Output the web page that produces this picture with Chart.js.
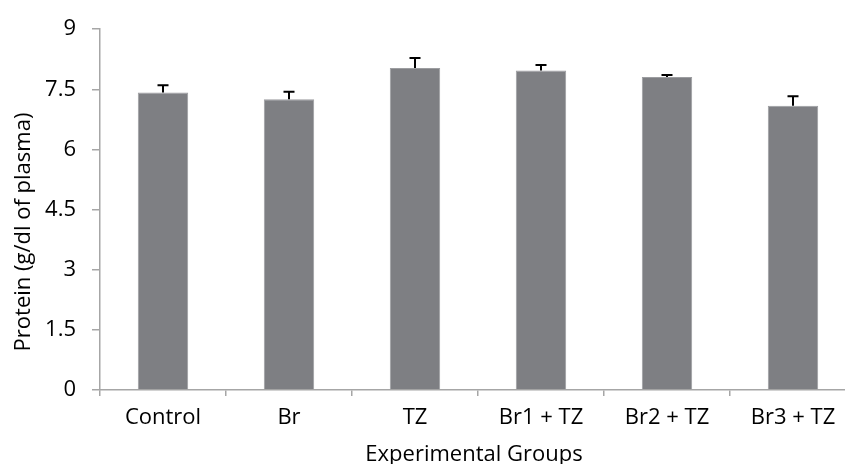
<!DOCTYPE html>
<html>
<head>
<meta charset="utf-8">
<script src="https://cdn.jsdelivr.net/npm/chart.js@4"></script>
<style>
  html, body { margin: 0; padding: 0; background: #ffffff; overflow: hidden; }
  #wrap { width: 870px; height: 464px; }
</style>
</head>
<body>
<div id="wrap"><canvas id="chart" width="870" height="464"></canvas></div>
<script>
// Plasma protein by experimental group (mean and upper SE)
const groups = ['Control', 'Br', 'TZ', 'Br1 + TZ', 'Br2 + TZ', 'Br3 + TZ'];
const protein = [7.42, 7.25, 8.03, 7.97, 7.81, 7.09];
const proteinErr = [0.18, 0.19, 0.25, 0.14, 0.05, 0.24];
const yTicks = [0, 1.5, 3, 4.5, 6, 7.5, 9];

const FONT = "'Open Sans', sans-serif";
const AXIS_GREY = '#a6a6a6';

// Upper-only error bars with a short cap
const errorBars = {
  id: 'errorBars',
  afterDatasetsDraw(chart) {
    const meta = chart.getDatasetMeta(0);
    const y = chart.scales.y;
    const ctx = chart.ctx;
    ctx.save();
    ctx.strokeStyle = '#000000';
    ctx.lineWidth = 2;
    meta.data.forEach((bar, i) => {
      const top = y.getPixelForValue(protein[i] + proteinErr[i]);
      const base = y.getPixelForValue(protein[i]);
      ctx.beginPath();
      ctx.moveTo(bar.x, base);
      ctx.lineTo(bar.x, top);
      ctx.moveTo(bar.x - 5.5, top);
      ctx.lineTo(bar.x + 5.5, top);
      ctx.stroke();
    });
    ctx.restore();
  }
};

// Axis titles
const axisTitles = {
  id: 'axisTitles',
  afterDraw(chart) {
    const ctx = chart.ctx;
    ctx.save();
    ctx.fillStyle = '#000000';
    ctx.font = '22px ' + FONT;
    ctx.textAlign = 'center';
    ctx.textBaseline = 'alphabetic';
    ctx.fillText('Experimental Groups', 474, 461);
    ctx.translate(30, 232);
    ctx.rotate(-Math.PI / 2);
    ctx.fillText('Protein (g/dl of plasma)', 0, 0);
    ctx.restore();
  }
};

new Chart(document.getElementById('chart'), {
  type: 'bar',
  data: {
    labels: groups,
    datasets: [{
      data: protein,
      backgroundColor: '#7e7f83',
      borderColor: '#9c9da0',
      borderWidth: 1,
      barPercentage: 0.4,
      categoryPercentage: 1.0
    }]
  },
  options: {
    responsive: false,
    animation: false,
    layout: { padding: { top: 26, right: 14, left: 0, bottom: 0 } },
    plugins: { legend: { display: false }, tooltip: { enabled: false } },
    scales: {
      x: {
        offset: true,
        grid: {
          display: true, offset: true, drawOnChartArea: false,
          drawTicks: true, tickLength: 6, color: AXIS_GREY, lineWidth: 1.5
        },
        border: { display: true, color: AXIS_GREY, width: 1.5 },
        ticks: { color: '#000000', font: { family: FONT, size: 22 }, padding: 9, maxRotation: 0 },
        afterFit(scale) { scale.height = 74; }
      },
      y: {
        min: 0, max: 9,
        afterBuildTicks(scale) { scale.ticks = yTicks.map(v => ({ value: v })); },
        grid: {
          display: true, drawOnChartArea: false,
          drawTicks: true, tickLength: 8, color: AXIS_GREY, lineWidth: 1.5
        },
        border: { display: true, color: AXIS_GREY, width: 1.5 },
        ticks: { color: '#000000', font: { family: FONT, size: 22 }, padding: 16,
                 callback: v => String(v) },
        afterFit(scale) { scale.width = 100; }
      }
    }
  },
  plugins: [errorBars, axisTitles]
});
</script>
</body>
</html>
